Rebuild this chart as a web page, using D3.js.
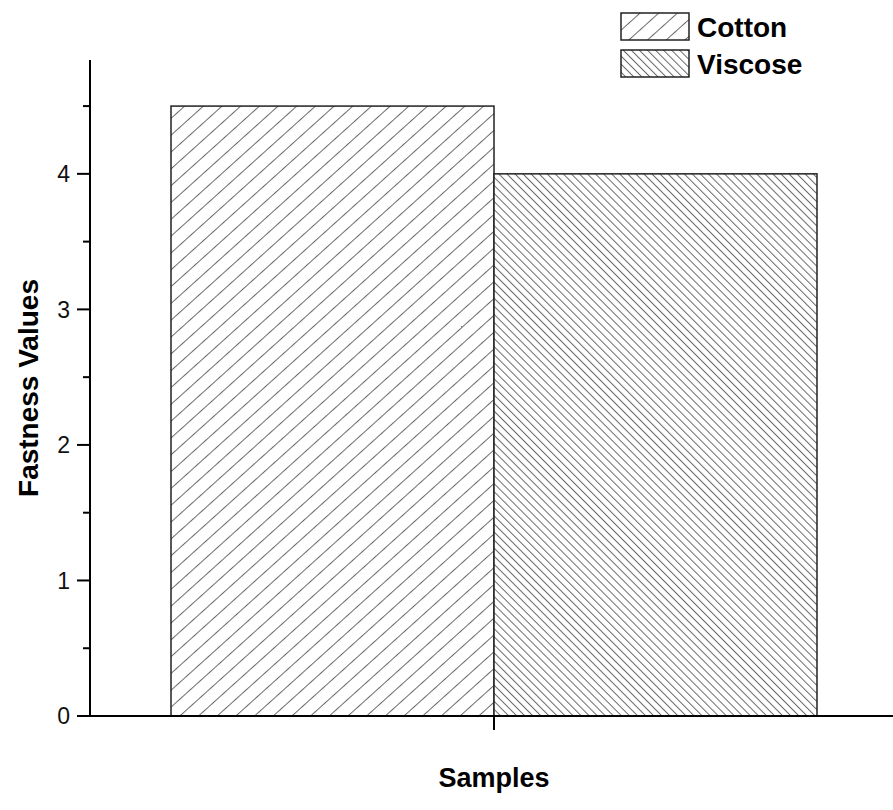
<!DOCTYPE html>
<html><head><meta charset="utf-8">
<script src="https://cdn.jsdelivr.net/npm/d3@7"></script>
<style>body{margin:0;background:#fff}svg{display:block}text{font-family:Arial,"Liberation Sans",sans-serif}</style>
</head><body>
<script>
const series = ["Cotton", "Viscose"];
const values = [4.5, 4.0];
const categories = ["Samples"];
const yTicks = [0, 1, 2, 3, 4];
const yMinor = [0.5, 1.5, 2.5, 3.5, 4.5];

const W = 893, H = 810;
const svg = d3.select("body").append("svg").attr("width", W).attr("height", H);

const y = d3.scaleLinear().domain([0, 4.84]).range([716, 60]);
const x0 = d3.scaleBand().domain(categories).range([171, 817]).padding(0);
const x1 = d3.scaleBand().domain(series).range([0, x0.bandwidth()]).padding(0);

const defs = svg.append("defs");
const pats = [{id: "hatchC", gap: 12.5, rot: 48}, {id: "hatchV", gap: 5.7, rot: -45}];
pats.forEach(p => {
  const pt = defs.append("pattern").attr("id", p.id).attr("patternUnits", "userSpaceOnUse")
    .attr("width", p.gap).attr("height", p.gap).attr("patternTransform", `rotate(${p.rot})`);
  pt.append("rect").attr("width", p.gap).attr("height", p.gap).attr("fill", "#fff");
  pt.append("line").attr("x1", 0.5).attr("y1", 0).attr("x2", 0.5).attr("y2", p.gap)
    .attr("stroke", "#6a6a6a").attr("stroke-width", 1);
});

// bars
const g = svg.append("g").attr("transform", `translate(${x0(categories[0])},0)`);
g.selectAll("rect").data(series).join("rect")
  .attr("x", d => x1(d)).attr("width", x1.bandwidth())
  .attr("y", (d, i) => y(values[i])).attr("height", (d, i) => y(0) - y(values[i]))
  .attr("fill", (d, i) => `url(#${pats[i].id})`)
  .attr("stroke", "#222").attr("stroke-width", 1.5);

// y axis
const yAxis = svg.append("g").attr("transform", "translate(90,0)");
yAxis.append("line").attr("x1", 0).attr("x2", 0).attr("y1", y.range()[1]).attr("y2", y(0) + 1)
  .attr("stroke", "#000").attr("stroke-width", 2);
yAxis.selectAll(".maj").data(yTicks).join("line").attr("class", "maj")
  .attr("x1", -13).attr("x2", 0).attr("y1", d => y(d)).attr("y2", d => y(d))
  .attr("stroke", "#000").attr("stroke-width", 2);
yAxis.selectAll(".min").data(yMinor).join("line").attr("class", "min")
  .attr("x1", -7).attr("x2", 0).attr("y1", d => y(d)).attr("y2", d => y(d))
  .attr("stroke", "#000").attr("stroke-width", 2);
yAxis.selectAll("text").data(yTicks).join("text")
  .attr("x", -20).attr("y", d => y(d)).attr("dy", "0.36em")
  .attr("text-anchor", "end").attr("font-size", 23).attr("fill", "#111").text(d => d);

// x axis
svg.append("line").attr("x1", 89).attr("x2", W).attr("y1", y(0)).attr("y2", y(0))
  .attr("stroke", "#000").attr("stroke-width", 2);
svg.append("line").attr("x1", x0(categories[0]) + x0.bandwidth() / 2).attr("x2", x0(categories[0]) + x0.bandwidth() / 2)
  .attr("y1", y(0)).attr("y2", y(0) + 14).attr("stroke", "#000").attr("stroke-width", 2);

// titles
svg.append("text").attr("x", x0(categories[0]) + x0.bandwidth() / 2).attr("y", 787)
  .attr("text-anchor", "middle").attr("font-size", 27).attr("font-weight", "bold").text(categories[0]);
svg.append("text").attr("transform", `translate(38,${(y.range()[0] + y.range()[1]) / 2}) rotate(-90)`)
  .attr("text-anchor", "middle").attr("font-size", 28).attr("font-weight", "bold").text("Fastness Values");

// legend
const lg = svg.append("g");
series.forEach((s, i) => {
  const yy = 13 + i * 37;
  lg.append("rect").attr("x", 621).attr("y", yy).attr("width", 68).attr("height", 27)
    .attr("fill", `url(#${pats[i].id})`).attr("stroke", "#222").attr("stroke-width", 1.5);
  lg.append("text").attr("x", 697).attr("y", yy + 24).attr("font-size", 28)
    .attr("font-weight", "bold").attr("fill", "#000").text(s);
});
</script>
</body></html>
